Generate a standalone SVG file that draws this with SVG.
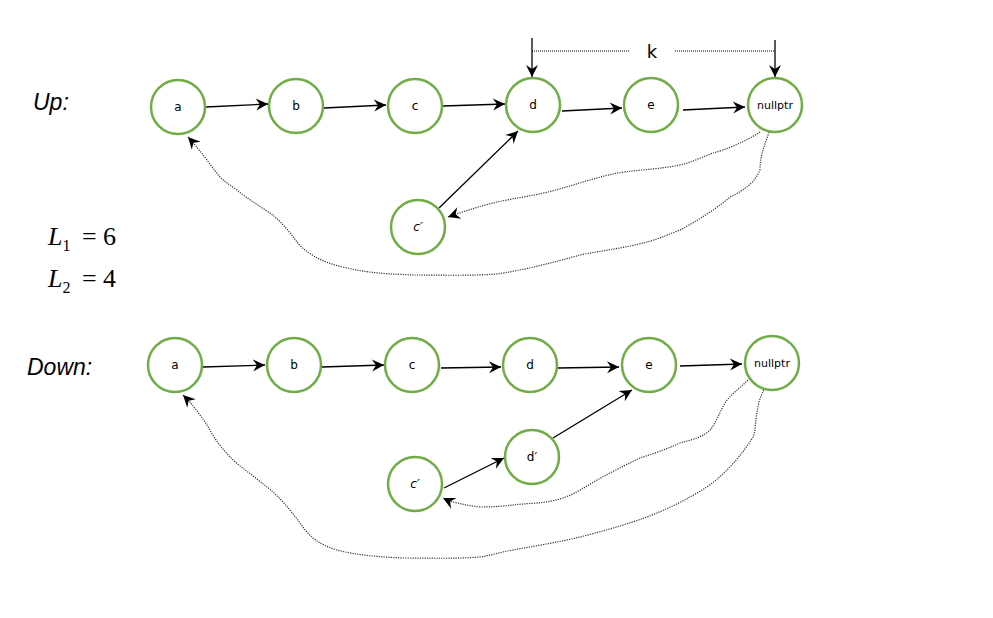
<svg xmlns="http://www.w3.org/2000/svg" width="993" height="618" viewBox="0 0 993 618">
<style>
.node circle{fill:#fff;stroke:#70AD47;stroke-width:2.5}
.node text{font-family:"DejaVu Sans","Liberation Sans",sans-serif;font-size:12px;text-anchor:middle;dominant-baseline:central;fill:#000}
.e{fill:none;stroke:#000;stroke-width:1.3;marker-end:url(#arr)}
.dot{fill:none;stroke:#333;stroke-width:1.2;stroke-dasharray:1.2 1.2;marker-end:url(#arr)}
.lbl{font-family:"Liberation Sans",sans-serif;font-style:italic;font-size:23px;fill:#000}
.math{font-family:"Liberation Serif",serif;font-size:26px;fill:#000}
</style>
<defs>
<marker id="arr" viewBox="0 0 14 14" refX="13" refY="7" markerWidth="14" markerHeight="14" markerUnits="userSpaceOnUse" orient="auto">
<path d="M1,1 L13,7 L1,13 L5,7 z" fill="#000"/>
</marker>
</defs>
<text class="lbl" x="33" y="110">Up:</text>
<text class="lbl" x="27" y="375">Down:</text>
<text class="math" x="48" y="245"><tspan font-style="italic">L</tspan><tspan font-size="16" dy="6">1</tspan><tspan x="82" dy="-6">=</tspan><tspan x="103">6</tspan></text>
<text class="math" x="48" y="287"><tspan font-style="italic">L</tspan><tspan font-size="16" dy="6">2</tspan><tspan x="82" dy="-6">=</tspan><tspan x="103">4</tspan></text>
<g id="connectors">
<path class="e" d="M206,107 L268,104"/>
<path class="e" d="M324,108 L386,105"/>
<path class="e" d="M443,106 L505,104"/>
<path class="e" d="M562,111 L622,108"/>
<path class="e" d="M683,110 L745,107"/>
<path class="e" d="M439,208 L518,131"/>
<path class="e" d="M532,38 L532,77"/>
<path class="e" d="M775,40 L775,77"/>
<path d="M532,51 L630,51 M675,51 L775,51" fill="none" stroke="#000" stroke-width="1" stroke-dasharray="1 1"/>
<path class="dot" d="M760,132 C745,142 725,150 713,153 C700,158 690,163 680,165 C655,170 630,170 613,174 C595,178 580,183 563,188 C540,195 515,198 497,202 C480,206 465,211 448,217"/>
<path class="dot" d="M769,132 C765,145 760,155 760,170 C755,182 745,190 730,197 C715,210 695,222 680,230 C665,236 655,240 647,242 C625,248 605,250 580,255 C555,262 525,270 497,274 C470,276 440,275 413,275 C395,274 370,274 343,267 C320,262 305,252 297,242 C288,230 280,220 270,213 C258,205 245,197 237,190 C230,185 225,182 220,177 C210,165 202,152 188,137"/>
<path class="e" d="M203,367 L265,365"/>
<path class="e" d="M322,367 L384,365"/>
<path class="e" d="M441,368 L501,367"/>
<path class="e" d="M558,368 L619,367"/>
<path class="e" d="M680,366 L742,364"/>
<path class="e" d="M444,488 L504,458"/>
<path class="e" d="M553,438 L632,390"/>
<path class="dot" d="M748,380 C740,388 733,393 727,400 C720,410 716,424 710,430 C702,438 690,440 680,443 C665,450 652,454 640,458 C625,465 610,473 597,480 C585,487 575,494 563,498 C545,504 528,503 513,505 C505,506 495,507 480,507 C470,506 462,504 453,502 C450,501 447,500 443,498"/>
<path class="dot" d="M765,388 C760,396 758,405 757,413 C755,422 756,430 753,437 C745,450 738,458 730,467 C720,477 710,486 697,493 C680,503 665,510 647,517 C625,525 600,532 580,537 C560,542 535,546 513,550 C500,552 490,556 480,557 C455,559 430,558 403,558 C380,557 355,555 337,550 C320,545 310,537 303,527 C292,512 280,497 267,487 C255,477 240,467 230,457 C222,448 215,440 210,430 C203,418 196,410 190,402 L183,395"/>
</g>
<text x="652" y="58" font-family="DejaVu Sans,sans-serif" font-size="18" text-anchor="middle">k</text>
<g id="up_a" class="node"><circle cx="178" cy="107" r="27"/><text x="178" y="107">a</text></g>
<g id="up_b" class="node"><circle cx="296" cy="106" r="27"/><text x="296" y="106">b</text></g>
<g id="up_c" class="node"><circle cx="415" cy="106" r="27"/><text x="415" y="106">c</text></g>
<g id="up_d" class="node"><circle cx="533" cy="105" r="27"/><text x="533" y="105">d</text></g>
<g id="up_e" class="node"><circle cx="651" cy="105" r="27"/><text x="651" y="105">e</text></g>
<g id="up_null" class="node"><circle cx="775" cy="105" r="27"/><text x="775" y="105" style="font-size:11px">nullptr</text></g>
<g id="up_c2" class="node"><circle cx="418" cy="227" r="27"/><text x="418" y="227" style="font-style:italic">c′</text></g>
<g id="dn_a" class="node"><circle cx="175" cy="365" r="27"/><text x="175" y="365">a</text></g>
<g id="dn_b" class="node"><circle cx="294" cy="365" r="27"/><text x="294" y="365">b</text></g>
<g id="dn_c" class="node"><circle cx="412" cy="365" r="27"/><text x="412" y="365">c</text></g>
<g id="dn_d" class="node"><circle cx="530" cy="365" r="27"/><text x="530" y="365">d</text></g>
<g id="dn_e" class="node"><circle cx="649" cy="365" r="27"/><text x="649" y="365">e</text></g>
<g id="dn_null" class="node"><circle cx="772" cy="363" r="27"/><text x="772" y="363" style="font-size:11px">nullptr</text></g>
<g id="dn_d2" class="node"><circle cx="532" cy="457" r="27"/><text x="532" y="457">d′</text></g>
<g id="dn_c2" class="node"><circle cx="415" cy="484" r="27"/><text x="415" y="484" style="font-style:italic">c′</text></g>
</svg>
